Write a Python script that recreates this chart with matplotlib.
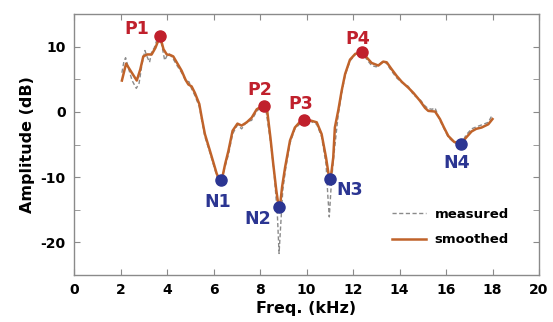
import matplotlib
matplotlib.use("Agg")
import matplotlib.pyplot as plt

# ---- data ----
smooth_x = [2.06, 2.24, 2.45, 2.70, 2.85, 2.98, 3.15, 3.34, 3.50, 3.70, 3.85, 3.99, 4.15, 4.27,
            4.45, 4.63, 4.80, 4.92, 5.06, 5.20, 5.39, 5.50, 5.63, 5.85, 6.00, 6.14, 6.24, 6.32, 6.40, 6.50,
            6.64, 6.82, 7.03, 7.21, 7.43, 7.64, 7.86, 8.05, 8.17, 8.31, 8.45, 8.57, 8.70, 8.78, 8.83,
            8.88, 8.95, 9.08, 9.29, 9.50, 9.70, 9.89, 10.15, 10.44, 10.65, 10.84, 10.96, 11.01, 11.06, 11.15, 11.22,
            11.37, 11.51, 11.66, 11.87, 12.10, 12.39, 12.60, 12.80, 13.09, 13.30, 13.45, 13.65,
            13.88, 14.10, 14.38, 14.60, 14.88, 15.10, 15.24, 15.53, 15.74, 15.90, 16.10, 16.35,
            16.65, 16.85, 17.10, 17.30, 17.53, 17.82, 18.00]
smooth_y = [4.8, 7.4, 6.2, 4.8, 6.5, 8.5, 8.8, 8.8, 9.8, 11.6, 9.6, 8.8, 8.7, 8.5,
            7.4, 6.3, 4.9, 4.2, 3.9, 2.9, 1.2, -1.0, -3.4, -6.0, -7.8, -9.5, -10.2, -10.4, -9.7, -8.0,
            -6.0, -2.9, -1.8, -2.1, -1.6, -0.9, 0.4, 0.8, 0.96, 0.15, -4.0, -8.0, -12.0, -14.0, -14.6,
            -13.8, -11.5, -8.5, -4.4, -2.4, -1.6, -1.37, -1.3, -1.6, -3.4, -7.0, -9.8, -10.3, -9.6, -7.0, -2.4,
            0.3, 3.2, 5.8, 8.0, 8.9, 9.1, 8.3, 7.5, 7.1, 7.7, 7.6, 6.6,
            5.5, 4.6, 3.7, 2.9, 1.7, 0.6, 0.15, 0.05, -1.1, -2.3, -3.7, -4.6,
            -4.9, -4.0, -3.0, -2.6, -2.4, -1.9, -1.1]

meas_x = [2.06, 2.15, 2.22, 2.35, 2.50, 2.68, 2.80, 2.92, 3.05, 3.15, 3.25, 3.34, 3.45, 3.60,
          3.70, 3.80, 3.90, 4.00, 4.10, 4.25, 4.45, 4.63, 4.80, 4.95, 5.05, 5.20, 5.39, 5.63,
          5.85, 6.14, 6.30, 6.45, 6.64, 6.82, 7.03, 7.21, 7.43, 7.64, 7.86, 8.10, 8.25, 8.45,
          8.60, 8.75, 8.82, 8.88, 8.98, 9.10, 9.29, 9.50, 9.70, 9.90, 10.15, 10.44, 10.65,
          10.84, 10.92, 10.98, 11.05, 11.15, 11.37, 11.51, 11.66, 11.87, 12.10, 12.39, 12.60,
          12.80, 13.00, 13.30, 13.45, 13.65, 13.88, 14.10, 14.38, 14.60, 14.88, 15.10, 15.24,
          15.40, 15.53, 15.74, 16.10, 16.35, 16.65, 16.85, 17.10, 17.30, 17.53, 17.82, 18.00]
meas_y = [6.0, 7.8, 8.3, 6.6, 4.8, 3.6, 4.4, 7.2, 9.4, 8.4, 7.6, 9.2, 9.8, 11.4,
          11.4, 9.8, 7.9, 8.6, 8.9, 8.2, 7.0, 6.0, 4.8, 4.6, 3.6, 2.5, 0.8, -3.8,
          -6.3, -9.8, -11.5, -9.0, -6.6, -3.4, -2.0, -2.6, -1.5, -1.3, 0.1, 0.9, 0.4, -4.5,
          -9.0, -16.0, -21.7, -18.0, -12.0, -8.8, -4.8, -2.6, -1.9, -1.6, -1.4, -1.9, -3.8,
          -8.0, -13.0, -16.1, -12.0, -7.5, -0.3, 2.8, 5.6, 7.8, 8.8, 9.1, 8.0,
          7.1, 6.9, 7.8, 7.4, 6.3, 5.2, 4.5, 3.9, 2.6, 1.9, 0.9, 0.5,
          0.4, 0.6, -1.3, -3.9, -4.7, -5.1, -3.6, -2.6, -2.3, -2.0, -1.6, -0.4]

peak_labels = ["P1", "P2", "P3", "P4"]
peak_x = [3.70, 8.17, 9.91, 12.39]
peak_y = [11.6, 0.96, -1.27, 9.1]

notch_labels = ["N1", "N2", "N3", "N4"]
notch_x = [6.31, 8.83, 11.01, 16.65]
notch_y = [-10.4, -14.6, -10.3, -4.94]

xticks = [0, 2, 4, 6, 8, 10, 12, 14, 16, 18, 20]
yticks_major = [-20, -10, 0, 10]
yticks_minor = [-25, -15, -5, 5, 15]

# ---- style ----
ORANGE = "#c0632a"
RED = "#c0202c"
BLUE = "#2b3592"
GRAY = "#8a8a8a"
plt.rcParams['font.family'] = ['DejaVu Sans']
plt.rcParams['font.weight'] = 'bold'
plt.rcParams['axes.unicode_minus'] = False

fig = plt.figure(figsize=(5.53, 3.22), dpi=100)
ax = fig.add_axes([74/553, 47/322, 465/553, 261/322])

ax.plot(meas_x, meas_y, color=GRAY, lw=1.0, dashes=(3, 1.8), label="measured", zorder=2)
ax.plot(smooth_x, smooth_y, color=ORANGE, lw=1.8, label="smoothed", zorder=3,
        solid_joinstyle='round')

ax.plot(peak_x, peak_y, 'o', color=RED, ms=8, zorder=4)
ax.plot(notch_x, notch_y, 'o', color=BLUE, ms=8, zorder=4)

peak_off = [(-23, 2), (-4.5, 10.7), (-3.3, 11), (-4, 8.3)]
notch_off = [(-3, -27.7), (-21.6, -17.3), (20, -16), (-4.3, -23.4)]
for lab, x, y, off in zip(peak_labels, peak_x, peak_y, peak_off):
    ax.annotate(lab, (x, y), xytext=off, textcoords='offset pixels', ha='center',
                va='baseline', color=RED, fontsize=12.5, fontweight='bold')
for lab, x, y, off in zip(notch_labels, notch_x, notch_y, notch_off):
    ax.annotate(lab, (x, y), xytext=off, textcoords='offset pixels', ha='center',
                va='baseline', color=BLUE, fontsize=12.5, fontweight='bold')

ax.set_xlim(0, 20)
ax.set_ylim(-25, 15)
ax.set_xticks(xticks)
ax.set_yticks(yticks_major)
ax.set_yticks(yticks_minor, minor=True)
ax.tick_params(axis='both', which='both', direction='in', color=GRAY, length=4,
               top=True, right=True, labelsize=10, pad=6)
for lbl in ax.get_xticklabels() + ax.get_yticklabels():
    lbl.set_fontweight('bold')
for sp in ax.spines.values():
    sp.set_color(GRAY)
    sp.set_linewidth(1.0)

ax.set_xlabel("Freq. (kHz)", fontsize=11.5, fontweight='bold', labelpad=3)
ax.set_ylabel("Amplitude (dB)", fontsize=11.5, fontweight='bold', labelpad=4)

leg = ax.legend(loc='center left', bbox_to_anchor=(0.658, 0.184), frameon=False,
                fontsize=9.5, handlelength=2.6, handletextpad=0.65, labelspacing=0.95)
for t in leg.get_texts():
    t.set_fontweight('bold')

fig.savefig("out.png", dpi=100)
